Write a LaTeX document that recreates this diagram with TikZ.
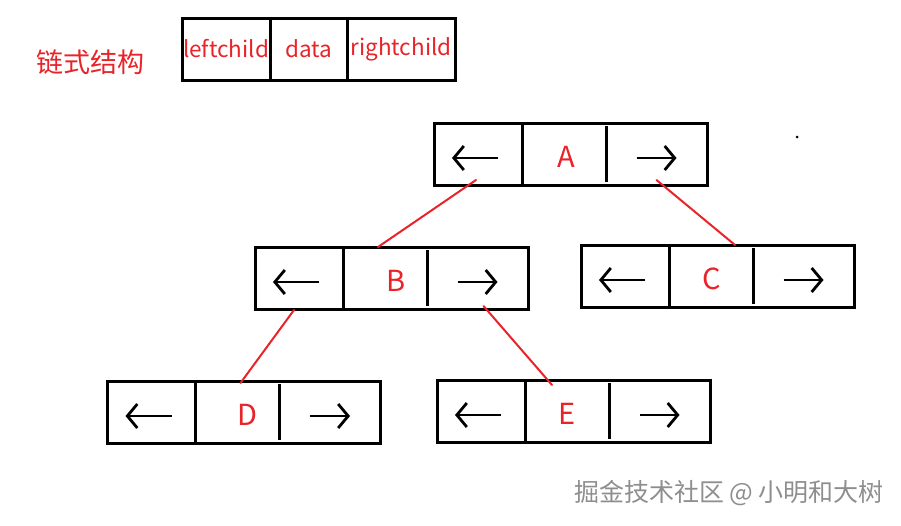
\documentclass[tikz,border=0pt]{standalone}
\usepackage{fontspec}
\setmainfont{Noto Sans CJK SC}
\usepackage{xcolor}
\usepackage{tikz}
\usetikzlibrary{positioning, calc, arrows.meta}
\definecolor{inkred}  {HTML}{E8232A}
\definecolor{markgray}{HTML}{8E8E8E}
\tikzset{
  >={Straight Barb[length=10pt, width=24pt]},
  cellL/.style={
    rectangle, minimum width=88pt, minimum height=62pt,
    inner sep=0pt, outer sep=0pt
  },
  cellM/.style={
    rectangle, minimum width=84pt, minimum height=62pt,
    inner sep=0pt, outer sep=0pt
  },
  cellR/.style={
    rectangle, minimum width=101pt, minimum height=62pt,
    inner sep=0pt, outer sep=0pt
  },
  hcell/.style={
    rectangle, minimum height=62pt, inner sep=0pt, outer sep=0pt,
    font=\fontsize{22.5}{24}\selectfont, text=inkred
  },
  letter/.style={
    font=\fontsize{29}{30}\selectfont, text=inkred, inner sep=0pt
  },
  title/.style={
    font=\fontsize{27}{30}\selectfont, text=inkred, inner sep=0pt
  },
  wmark/.style={
    font=\fontsize{25}{27}\selectfont, text=markgray, inner sep=0pt
  },
  frame/.style={
    line width=3pt, draw=black
  },
  ptr/.style={
    line width=2.8pt, draw=black
  },
  link/.style={
    line width=2pt, draw=inkred, line cap=round
  },
}

\begin{document}
\begin{tikzpicture}[x=1pt, y=-1pt]
\useasboundingbox (0,0) rectangle (901,525);

% caption and field layout
\node[title] (cap) at (90,62) {链式结构};
\node[hcell, minimum width=88pt] (hl) at (226,49) {leftchild};
\node[hcell, minimum width=77pt, right=0pt of hl] (hm) {data};
\node[hcell, minimum width=108pt, right=0pt of hm] (hr) {rightchild};
\draw[frame] (hl.north west) rectangle (hr.south east);
\draw[frame] (hl.north east) -- (hl.south east);
\draw[frame] (hm.north east) -- (hm.south east);

% tree nodes: left pointer | data | right pointer
\foreach \n/\x/\y/\dx in {A/478/154/2, B/299/278/11, C/625/276/1, D/151.5/412/10, E/481/411/0} {
  \node[cellL] (\n-l) at (\x,\y) {};
  \node[cellM, right=0pt of \n-l] (\n-m) {};
  \node[cellR, right=0pt of \n-m] (\n-r) {};
  \node[letter] (\n-txt) at ($(\n-m.center)+(\dx,3)$) {\n};
  \draw[frame] (\n-l.north west) rectangle (\n-r.south east);
  \draw[frame] (\n-l.north east) -- (\n-l.south east);
  \draw[frame] ($(\n-m.north east)+(0,3)$) -- ($(\n-m.south east)+(0,-3)$);
  \draw[ptr, ->] ($(\n-l.center)+(20,4)$) -- ($(\n-l.center)+(-26,4)$);
  \draw[ptr, ->] ($(\n-r.center)+(-20,4)$) -- ($(\n-r.center)+(20,4)$);
}

% parent -> child links
\draw[link] ($(A-l.south)+(-2,-5)$) -- ($(B-m.north)+(-7,0)$);
\draw[link] ($(A-r.south)+(0,-5)$) -- ($(C-m.north)+(24,0)$);
\draw[link] ($(B-l.south)+(-5,1)$) -- ($(D-m.north)+(3,2)$);
\draw[link] ($(B-r.south)+(6,-3)$) -- ($(E-m.north)+(-15,5)$);

% stray dot and watermark
\fill (797,137) circle (1.5);
\node[wmark] (wm) at (729,493) {掘金技术社区 @ 小明和大树};

\end{tikzpicture}
\end{document}
